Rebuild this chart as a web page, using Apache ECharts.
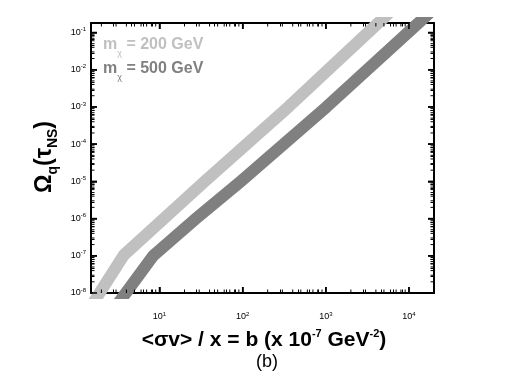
<!DOCTYPE html>
<html><head><meta charset="utf-8">
<script src="https://cdn.jsdelivr.net/npm/echarts@6/dist/echarts.min.js"></script>
<style>html,body{margin:0;padding:0;background:#fff}#c{width:505px;height:378px}</style>
</head><body><div id="c"></div>
<script>
// ---- data ----
const b200 = [1.56, 3.73, 35, 355, 4270, 6240];
const omega200 = [5e-9, 1.05e-7, 1e-5, 1e-3, 0.18, 0.4];
const b500 = [3.13, 8.4, 27.5, 95, 1020, 13000, 19200];
const omega500 = [5e-9, 1e-7, 1e-6, 1e-5, 1e-3, 0.18, 0.4];
const seriesNames = ['200 GeV', '500 GeV'];
const xMajor = [10, 100, 1000, 10000];
const yMajor = [1e-8, 1e-7, 1e-6, 1e-5, 1e-4, 1e-3, 1e-2, 1e-1];
const xMin = 1.5, xMax = 20000, yMin = 1e-8, yMax = 0.18;

const xMinor = [], yMinor = [];
for (let d = 0; d <= 4; d++) for (let k = 2; k <= 9; k++) { const v = k * Math.pow(10, d); if (v > xMin && v < xMax) xMinor.push(v); }
for (let d = -8; d <= -1; d++) for (let k = 2; k <= 9; k++) { const v = k * Math.pow(10, d); if (v > yMin && v < yMax) yMinor.push(v); }

const F = '"Liberation Sans", Arial, sans-serif';
const C200 = '#c0c0c0', C500 = '#808080';
const MAJ = 6, MIN = 3.5;

function isPow10(v) { const e = Math.log10(v); return Math.abs(e - Math.round(e)) < 1e-6; }

function logAxis(dim, pos, labels) {
  const isX = dim === 'x';
  const a = {
    type: 'log', position: pos,
    min: isX ? xMin : yMin, max: isX ? xMax : yMax,
    axisLine: { show: true, lineStyle: { color: '#000', width: 2 } },
    axisTick: { show: true, inside: true, length: MAJ, lineStyle: { color: '#000', width: 1.5 } },
    minorTick: { show: true, length: MIN, lineStyle: { color: '#000', width: 1 } },
    splitLine: { show: false },
    axisLabel: { show: false }
  };
  if (labels) a.axisLabel = {
    show: true, margin: isX ? 18 : 5,
    formatter: v => isPow10(v) ? '{b|10}{e|' + Math.round(Math.log10(v)) + '}' : '',
    rich: {
      b: { fontSize: 9, fontFamily: F, color: '#000', lineHeight: 12 },
      e: { fontSize: 6, fontFamily: F, color: '#000', lineHeight: 12, verticalAlign: 'top' }
    }
  };
  return a;
}

// tick marks (all four sides) placed through the axes' own scales
const tickData = [];
xMajor.forEach(v => { tickData.push([v, yMin, 0, MAJ]); tickData.push([v, yMax, 1, MAJ]); });
xMinor.forEach(v => { tickData.push([v, yMin, 0, MIN]); tickData.push([v, yMax, 1, MIN]); });
yMajor.forEach(v => { tickData.push([xMin, v, 2, MAJ]); tickData.push([xMax, v, 3, MAJ]); });
yMinor.forEach(v => { tickData.push([xMin, v, 2, MIN]); tickData.push([xMax, v, 3, MIN]); });

const tickSeries = {
  type: 'custom', silent: true, clip: false, z: 10, xAxisIndex: 0, yAxisIndex: 0,
  data: tickData,
  renderItem: (params, api) => {
    const p = api.coord([api.value(0), api.value(1)]);
    const side = api.value(2), len = api.value(3);
    let x2 = p[0], y2 = p[1];
    if (side === 0) y2 -= len; else if (side === 1) y2 += len; else if (side === 2) x2 += len; else x2 -= len;
    return { type: 'line', shape: { x1: p[0], y1: p[1], x2: x2, y2: y2 },
      style: { stroke: '#000', lineWidth: len > 4 ? 1.5 : 1 } };
  }
};

const chart = echarts.init(document.getElementById('c'));
chart.setOption({
  animation: false,
  grid: { left: 91, top: 23, width: 343, height: 270 },
  xAxis: [logAxis('x', 'bottom', true), logAxis('x', 'top', false)],
  yAxis: [logAxis('y', 'left', true), logAxis('y', 'right', false)],
  series: [
    { name: seriesNames[0], type: 'line', xAxisIndex: 0, yAxisIndex: 0, showSymbol: false, z: 1,
      lineStyle: { color: C200, width: 12, join: 'round' }, data: b200.map((x, i) => [x, omega200[i]]) },
    { name: seriesNames[1], type: 'line', xAxisIndex: 0, yAxisIndex: 0, showSymbol: false, z: 1,
      lineStyle: { color: C500, width: 12, join: 'round' }, data: b500.map((x, i) => [x, omega500[i]]) },
    tickSeries
  ],
  graphic: [
    { type: 'text', left: 103, top: 37, z: 100, style: { text: '{t|m}{s|χ}{t| = 200 GeV}',
      rich: { t: { fontSize: 16, fontWeight: 'bold', fontFamily: F, fill: C200, lineHeight: 26 },
              s: { fontSize: 9, fontFamily: F, fill: C200, lineHeight: 10, verticalAlign: 'bottom' } } } },
    { type: 'text', left: 103, top: 61, z: 100, style: { text: '{t|m}{s|χ}{t| = 500 GeV}',
      rich: { t: { fontSize: 16, fontWeight: 'bold', fontFamily: F, fill: C500, lineHeight: 26 },
              s: { fontSize: 9, fontFamily: F, fill: C500, lineHeight: 10, verticalAlign: 'bottom' } } } },
    { type: 'text', x: 45, y: 157, rotation: Math.PI / 2, z: 100, style: { text: '{o|Ω}{s|q}{o|(τ}{s|NS}{o|)}',
      align: 'center', verticalAlign: 'middle',
      rich: { o: { fontSize: 23, fontWeight: 'bold', fontFamily: F, fill: '#000', lineHeight: 30 },
              s: { fontSize: 14, fontWeight: 'bold', fontFamily: F, fill: '#000', lineHeight: 14, verticalAlign: 'bottom' } } } },
    { type: 'text', x: 264, y: 340, z: 100, style: { text: '{t|<σv> / x = b (x 10}{p|-7}{t| GeV}{p|-2}{t|)}',
      align: 'center', verticalAlign: 'middle',
      rich: { t: { fontSize: 21, fontWeight: 'bold', fontFamily: F, fill: '#000', lineHeight: 24 },
              p: { fontSize: 11, fontWeight: 'bold', fontFamily: F, fill: '#000', lineHeight: 12, verticalAlign: 'top' } } } },
    { type: 'text', x: 267, y: 362, z: 100, style: { text: '(b)', align: 'center', verticalAlign: 'middle',
      fontSize: 18, fontFamily: F, fill: '#000' } }
  ]
});
</script></body></html>
